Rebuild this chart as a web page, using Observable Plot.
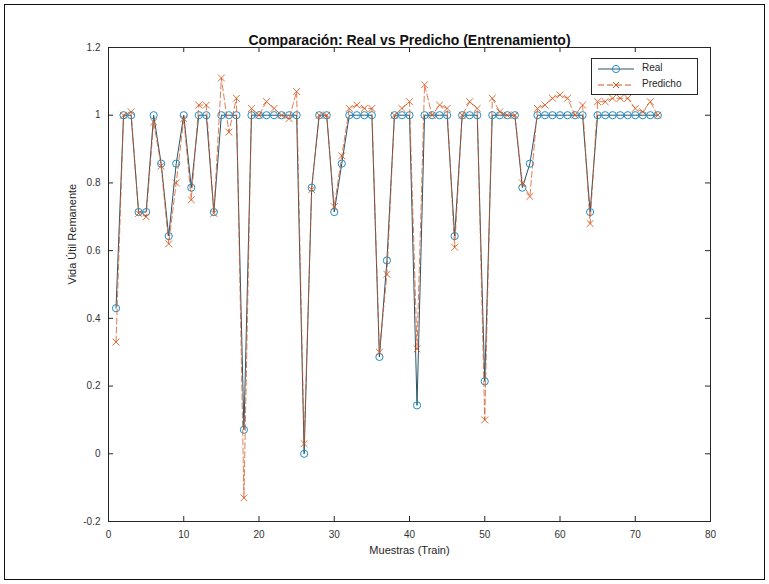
<!DOCTYPE html>
<html>
<head>
<meta charset="utf-8">
<script src="https://cdn.jsdelivr.net/npm/d3@7"></script>
<script src="https://cdn.jsdelivr.net/npm/@observablehq/plot@0.6"></script>
<style>
  html, body { margin: 0; padding: 0; background: #fff; }
  #wrap { position: relative; width: 769px; height: 584px; font-family: "Liberation Sans", Arial, Helvetica, sans-serif; }
  #border { position: absolute; left: 4px; top: 4px; width: 761px; height: 576px; box-sizing: border-box; border: 1px solid #111; pointer-events: none; }
  #legend { position: absolute; left: 591px; top: 58px; width: 107px; height: 37px; box-sizing: border-box; border: 1px solid #262626; background: #fff; font-size: 10px; color: #262626; }
  #legend svg { position: absolute; left: 0; top: 0; }
  #legend .lab { position: absolute; left: 50px; line-height: 12px; }
</style>
</head>
<body>
<div id="wrap">
  <div id="chart"></div>
  <div id="legend"></div>
  <div id="border"></div>
</div>
<script>
// Vida Útil Remanente — real (index 1..73)
const realValues = [
  0.43, 1, 1, 0.714, 0.714, 1, 0.857, 0.643, 0.857, 1,
  0.786, 1, 1, 0.714, 1, 1, 1, 0.071, 1, 1,
  1, 1, 1, 1, 1, 0, 0.786, 1, 1, 0.714,
  0.857, 1, 1, 1, 1, 0.286, 0.571, 1, 1, 1,
  0.143, 1, 1, 1, 1, 0.643, 1, 1, 1, 0.214,
  1, 1, 1, 1, 0.786, 0.857, 1, 1, 1, 1,
  1, 1, 1, 0.714, 1, 1, 1, 1, 1, 1,
  1, 1, 1
];
// Predicted values (index 1..73)
const predValues = [
  0.33, 1.0, 1.01, 0.71, 0.70, 0.98, 0.85, 0.62, 0.80, 0.99,
  0.75, 1.03, 1.03, 0.71, 1.11, 0.95, 1.05, -0.13, 1.02, 1.0,
  1.04, 1.02, 1.0, 0.99, 1.07, 0.03, 0.78, 1.0, 1.0, 0.73,
  0.88, 1.02, 1.03, 1.02, 1.02, 0.30, 0.53, 1.0, 1.02, 1.04,
  0.31, 1.09, 1.0, 1.03, 1.02, 0.61, 1.0, 1.04, 1.02, 0.10,
  1.05, 1.01, 1.0, 1.0, 0.80, 0.76, 1.02, 1.03, 1.05, 1.06,
  1.05, 1.0, 1.03, 0.68, 1.04, 1.04, 1.05, 1.05, 1.05, 1.02,
  1.01, 1.04, 1.0
];
const xTicks = [0, 10, 20, 30, 40, 50, 60, 70, 80];
const yTicks = [-0.2, 0, 0.2, 0.4, 0.6, 0.8, 1, 1.2];
const titleText = "Comparación: Real vs Predicho (Entrenamiento)";
const xLabel = "Muestras (Train)";
const yLabel = "Vida Útil Remanente";
const seriesNames = ["Real", "Predicho"];

const real = realValues.map((v, i) => ({x: i + 1, y: v}));
const pred = predValues.map((v, i) => ({x: i + 1, y: v}));

const realLine = "#2c5468";
const realMarker = "#1f8fc6";
const predColor = "#D95319";
const axisColor = "#262626";

const W = 769, H = 584, mL = 108, mR = 59, mT = 47, mB = 63;
const innerH = H - mT - mB, innerW = W - mL - mR, tk = 5;

const chart = Plot.plot({
  width: W, height: H,
  marginLeft: mL, marginRight: mR, marginTop: mT, marginBottom: mB,
  x: {domain: [0, 80]},
  y: {domain: [-0.2, 1.2]},
  style: {fontFamily: '"Liberation Sans", Arial, Helvetica, sans-serif', fontSize: "10px", color: axisColor, background: "#fff"},
  marks: [
    Plot.frame({stroke: axisColor, strokeWidth: 1}),
    Plot.axisX({ticks: xTicks, tickSize: 0, tickPadding: 9, label: null, tickFormat: d => String(d), fill: "#333"}),
    Plot.axisY({ticks: yTicks, tickSize: 0, tickPadding: 8, label: null, tickFormat: d => String(d), fill: "#333"}),
    // inward tick marks (MATLAB style)
    Plot.ruleX(xTicks, {x: d => d, insetTop: innerH - tk, stroke: axisColor}),
    Plot.ruleX(xTicks, {x: d => d, insetBottom: innerH - tk, stroke: axisColor}),
    Plot.ruleY(yTicks, {y: d => d, insetRight: innerW - tk, stroke: axisColor}),
    Plot.ruleY(yTicks, {y: d => d, insetLeft: innerW - tk, stroke: axisColor}),
    // series
    Plot.line(real, {x: "x", y: "y", stroke: realLine, strokeWidth: 1}),
    Plot.dot(real, {x: "x", y: "y", symbol: "circle", r: 3.6, stroke: realMarker, strokeWidth: 1, fill: "none"}),
    Plot.line(pred, {x: "x", y: "y", stroke: predColor, strokeWidth: 1, strokeDasharray: "6,3", strokeOpacity: 0.75}),
    Plot.dot(pred, {x: "x", y: "y", symbol: "times", r: 3.2, stroke: predColor, strokeWidth: 1, strokeOpacity: 0.85}),
    // texts
    Plot.text([titleText], {text: d => d, frameAnchor: "top", dy: -12, fontWeight: "bold", fontSize: 14, fill: "#111"}),
    Plot.text([xLabel], {text: d => d, frameAnchor: "bottom", dy: 32, fontSize: 11, fill: "#262626"}),
    Plot.text([yLabel], {text: d => d, frameAnchor: "left", dx: -36, rotate: -90, fontSize: 11, fill: "#262626"})
  ]
});
document.getElementById("chart").appendChild(chart);

// legend
const leg = document.getElementById("legend");
leg.innerHTML = `
<svg width="107" height="37">
  <line x1="6" y1="10" x2="42" y2="10" stroke="${realLine}" stroke-width="1"/>
  <circle cx="24" cy="10" r="3.6" fill="none" stroke="${realMarker}" stroke-width="1"/>
  <line x1="6" y1="26" x2="42" y2="26" stroke="${predColor}" stroke-width="1" stroke-dasharray="6,3"/>
  <path d="M21,23L27,29M27,23L21,29" stroke="${predColor}" stroke-width="1"/>
</svg>
<div class="lab" style="top:3px">${seriesNames[0]}</div>
<div class="lab" style="top:19px">${seriesNames[1]}</div>`;
</script>
</body>
</html>
